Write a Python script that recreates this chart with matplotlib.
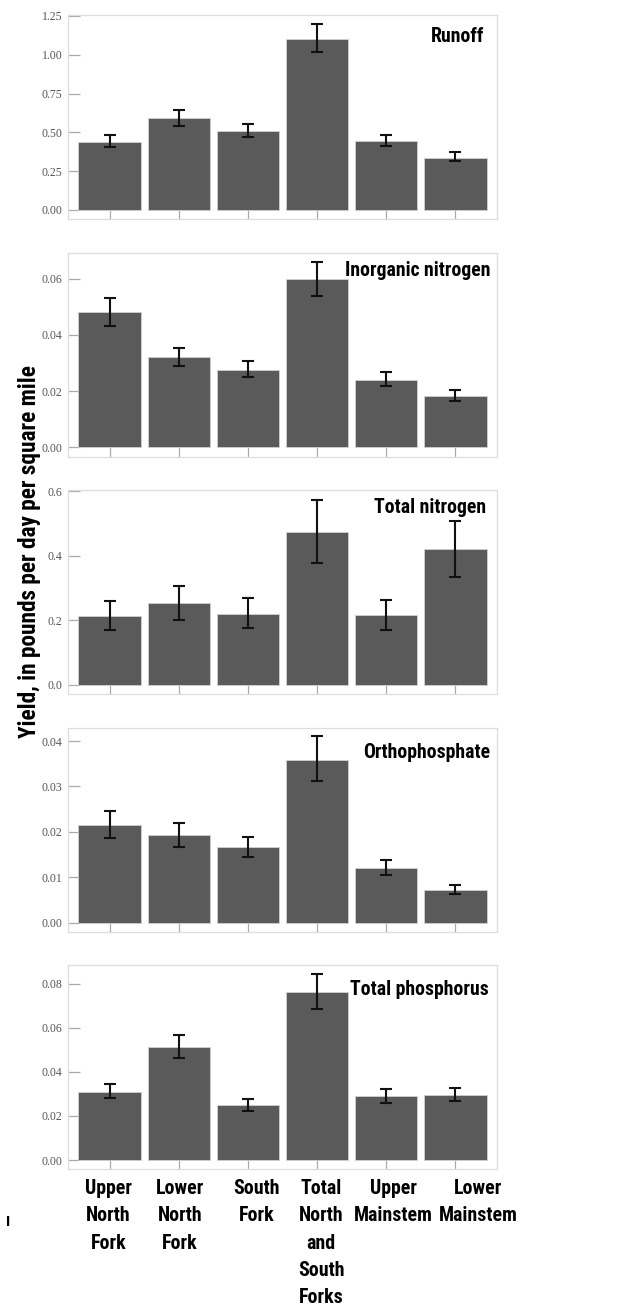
import os
import numpy as np
import matplotlib.pyplot as plt
from matplotlib import font_manager as fm
from matplotlib.transforms import ScaledTranslation

# site names (x categories)
sites = ["Upper\nNorth\nFork", "Lower\nNorth\nFork", "South\nFork",
         "Total\nNorth\nand\nSouth\nForks", "Upper\nMainstem", "Lower\nMainstem"]

# yields with lower / upper confidence limits
runoff = [0.440, 0.591, 0.511, 1.104, 0.445, 0.337]
runoff_lo = [0.408, 0.543, 0.473, 1.016, 0.412, 0.314]
runoff_hi = [0.481, 0.644, 0.556, 1.196, 0.485, 0.372]

inorg_n = [0.0480, 0.0320, 0.0276, 0.0598, 0.0241, 0.0184]
inorg_n_lo = [0.0430, 0.0288, 0.0249, 0.0540, 0.0217, 0.0165]
inorg_n_hi = [0.0530, 0.0353, 0.0307, 0.0661, 0.0268, 0.0203]

total_n = [0.214, 0.254, 0.220, 0.475, 0.216, 0.421]
total_n_lo = [0.170, 0.200, 0.176, 0.378, 0.171, 0.335]
total_n_hi = [0.260, 0.307, 0.269, 0.574, 0.262, 0.509]

ortho_p = [0.0215, 0.0192, 0.0167, 0.0359, 0.0120, 0.0073]
ortho_p_lo = [0.0186, 0.0167, 0.0145, 0.0311, 0.0104, 0.0064]
ortho_p_hi = [0.0247, 0.0219, 0.0189, 0.0410, 0.0138, 0.0084]

total_p = [0.0310, 0.0511, 0.0248, 0.0762, 0.0290, 0.0295]
total_p_lo = [0.0280, 0.0461, 0.0224, 0.0687, 0.0260, 0.0266]
total_p_hi = [0.0343, 0.0566, 0.0275, 0.0842, 0.0322, 0.0328]

panels = [
    ("Runoff", runoff, runoff_lo, runoff_hi, (-0.058, 1.256), np.arange(0, 1.26, 0.25), "%.2f"),
    ("Inorganic nitrogen", inorg_n, inorg_n_lo, inorg_n_hi, (-0.00335, 0.06925), np.arange(0, 0.061, 0.02), "%.2f"),
    ("Total nitrogen", total_n, total_n_lo, total_n_hi, (-0.0279, 0.604), np.arange(0, 0.61, 0.2), "%.1f"),
    ("Orthophosphate", ortho_p, ortho_p_lo, ortho_p_hi, (-0.00198, 0.0428), np.arange(0, 0.041, 0.01), "%.2f"),
    ("Total phosphorus", total_p, total_p_lo, total_p_hi, (-0.0042, 0.0885), np.arange(0, 0.081, 0.02), "%.2f"),
]

# axes frames in pixels (top, bottom) and where each panel title sits
frames = [(15, 219), (252.7, 456.7), (490, 694), (728.3, 931.7), (965, 1169.3)]
title_pos = [(0.970, 0.94), (0.985, 0.96), (0.975, 0.96), (0.984, 0.93), (0.980, 0.925)]
W, H = 621, 1313


def condensed_bold():
    # look for a narrow/condensed bold face among the installed fonts
    prefs = ['liberation sans narrow', 'arial narrow', 'roboto condensed', 'open sans condensed',
             'dejavu sans condensed', 'noto sans condensed', 'dejavusanscondensed', 'notosans-condensed']
    found = []
    for f in fm.fontManager.ttflist:
        fn = os.path.basename(f.fname).lower()
        cond = ('condensed' in fn or 'narrow' in fn
                or f.stretch in ('condensed', 'semi-condensed', 'extra-condensed'))
        w = f.weight if isinstance(f.weight, int) else (700 if 'bold' in str(f.weight) else 400)
        bold = w >= 600 or 'bold' in fn
        if cond and bold and 'italic' not in fn and 'oblique' not in fn and 'extrabold' not in fn:
            key = (f.name + ' ' + fn).lower()
            rank = next((i for i, p in enumerate(prefs) if p in key), len(prefs))
            found.append((rank, f.fname))
    if found:
        found.sort()
        return fm.FontProperties(fname=found[0][1])
    return fm.FontProperties(family=['Liberation Sans', 'DejaVu Sans'], weight='bold')


cond = condensed_bold()
serif = ['Liberation Serif', 'DejaVu Serif']

fig = plt.figure(figsize=(W / 100, H / 100), dpi=100)
renderer = fig.canvas.get_renderer()


def fit_size(text, target_px, base=14):
    t = fig.text(0, 0, text, fontproperties=cond, size=base)
    w = t.get_window_extent(renderer).width
    t.remove()
    return base * target_px / w


title_size = fit_size("Inorganic nitrogen", 146)
tick_size = fit_size("Mainstem", 79)
label_size = fit_size("Yield, in pounds per day per square mile", 375)

x = np.arange(len(sites))

for i, (name, vals, lo, hi, ylim, ticks, fmt) in enumerate(panels):
    top, bottom = frames[i]
    ax = fig.add_axes([68 / W, 1 - bottom / H, 429 / W, (bottom - top) / H])
    vals = np.array(vals)
    err = [vals - np.array(lo), np.array(hi) - vals]
    ax.bar(x, vals, width=0.9, color='#5a5a5a', edgecolor='#d0d0d0', linewidth=0.6, zorder=2)
    ax.errorbar(x, vals, yerr=err, fmt='none', ecolor='#111111', elinewidth=1.5,
                capsize=4.6, capthick=1.5, zorder=3)
    ax.set_xlim(-0.6, 5.6)
    ax.set_ylim(*ylim)
    ax.set_axisbelow(True)
    ax.set_yticks(ticks)
    ax.set_yticklabels([fmt % t for t in ticks], family=serif, fontsize=8.5, color='#555555')
    ax.set_xticks(x)
    ax.tick_params(axis='y', direction='in', length=8.5, width=0.9, color='#aaaaaa', pad=4)
    ax.tick_params(axis='x', direction='in', length=10, width=0.9, color='#aaaaaa', pad=7)
    for s in ax.spines.values():
        s.set_color('#dddddd')
        s.set_linewidth(0.9)
    tx, ty = title_pos[i]
    ax.text(tx, ty, name, transform=ax.transAxes, ha='right', va='top',
            fontproperties=cond, size=title_size)
    if i < len(panels) - 1:
        ax.set_xticklabels([])
    else:
        ax.set_xticklabels(sites, fontproperties=cond, size=tick_size,
                           va='top', linespacing=1.55)
        shifts = [-1, 1, 9, 4, 7, 23]
        for lab, dx in zip(ax.get_xticklabels(), shifts):
            lab.set_transform(lab.get_transform() + ScaledTranslation(dx / 100, 0, fig.dpi_scale_trans))

fig.text(30 / W, 1 - 552 / H, "Yield, in pounds per day per square mile", rotation=90,
         ha='center', va='center', fontproperties=cond, size=label_size)
fig.text(8 / W, 1 - 1222 / H, "I", ha='center', va='center',
         family=['Liberation Sans', 'DejaVu Sans'], fontweight='bold', fontsize=11)

fig.savefig('out.png', dpi=100)
